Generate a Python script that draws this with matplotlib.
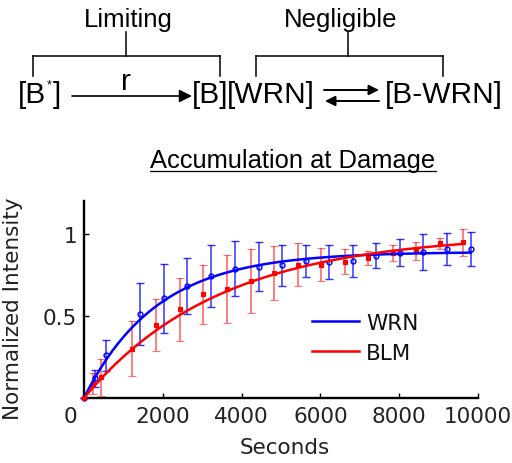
import numpy as np
import matplotlib
matplotlib.use('Agg')
import matplotlib.pyplot as plt

# ---------------- data ----------------
wrn_t = [0, 280, 560, 1420, 2030, 2620, 3230, 3820, 4430, 5030, 5630, 6230, 6820, 7420, 8020, 8610, 9220, 9820]
wrn_y = [0, 0.12, 0.26, 0.51, 0.607, 0.684, 0.745, 0.787, 0.80, 0.808, 0.835, 0.828, 0.835, 0.868, 0.886, 0.892, 0.907, 0.908]
wrn_err = [0, 0.05, 0.093, 0.19, 0.21, 0.17, 0.19, 0.167, 0.15, 0.124, 0.10, 0.105, 0.10, 0.075, 0.08, 0.11, 0.097, 0.105]

blm_t = [0, 230, 420, 1230, 1840, 2430, 3030, 3640, 4230, 4820, 5420, 6020, 6620, 7220, 7830, 8430, 9030, 9620]
blm_y = [0, 0.087, 0.127, 0.30, 0.443, 0.54, 0.632, 0.663, 0.713, 0.76, 0.813, 0.813, 0.83, 0.853, 0.885, 0.895, 0.942, 0.948]
blm_err = [0, 0.063, 0.113, 0.166, 0.158, 0.19, 0.18, 0.207, 0.197, 0.166, 0.13, 0.10, 0.077, 0.04, 0.05, 0.053, 0.035, 0.082]

# single-exponential fit parameters (amplitude, time constant in s)
wrn_fit = (0.89, 1850.0)
blm_fit = (1.0, 3450.0)

series_names = ['WRN', 'BLM']
x_ticks = [2000, 4000, 6000, 8000, 10000]
x_ticklabels = ['2000', '4000', '6000', '8000', '10000']
y_ticks = [0.5, 1.0]
y_ticklabels = ['0.5', '1']

# ---------------- figure ----------------
W, H = 512, 464
fig = plt.figure(figsize=(W / 100, H / 100), dpi=100)

# overlay in pixel coordinates (y down) for the reaction diagram
ov = fig.add_axes([0, 0, 1, 1])
ov.set_xlim(0, W)
ov.set_ylim(H, 0)
ov.axis('off')

hfont = 'Liberation Sans'
cfont = 'DejaVu Sans'

# ---- main axes ----
L, R, T, B = 84, 478, 202, 399
ax = fig.add_axes([L / W, 1 - B / H, (R - L) / W, (B - T) / H])
ax.set_xlim(0, 10000)
ax.set_ylim(0, 1.2)
for s in ['top', 'right']:
    ax.spines[s].set_visible(False)
for s in ['left', 'bottom']:
    ax.spines[s].set_linewidth(1.7)
ax.set_xticks(x_ticks)
ax.set_xticklabels(x_ticklabels)
ax.set_yticks(y_ticks)
ax.set_yticklabels(y_ticklabels)
ax.tick_params(direction='in', length=3.6, width=1.0, labelsize=15.5, pad=5)
ax.tick_params(axis='x', pad=6)
for lab in ax.get_xticklabels() + ax.get_yticklabels():
    lab.set_fontfamily(cfont)
    lab.set_color('#222222')
ax.annotate('0', xy=(0, 0), xycoords='data', xytext=(-14, -8.5), textcoords='offset pixels',
            ha='center', va='top', fontsize=15.5, family=cfont, color='#222222')

ax.set_xlabel('Seconds', fontsize=15.5, family=cfont, color='#222222')
ax.xaxis.set_label_coords(0.51, -0.2)
ax.set_ylabel('Normalized Intensity', fontsize=15.5, family=cfont, color='#222222')
ax.yaxis.set_label_coords(-0.155, 0.46)

# error bars
ax.errorbar(wrn_t, wrn_y, yerr=wrn_err, fmt='o', ms=3.5, mfc='none', mec='blue', mew=1.0,
            ecolor=(0, 0, 1, 0.8), elinewidth=1.1, capsize=3.2, capthick=1.1, clip_on=False, zorder=3)
ax.errorbar(blm_t, blm_y, yerr=blm_err, fmt='s', ms=2.8, mfc='red', mec='red', mew=0.8,
            ecolor=(1, 0, 0, 0.55), elinewidth=1.3, capsize=3.2, capthick=1.3, clip_on=False, zorder=3)

# fitted curves
tw = np.linspace(0, wrn_t[-1], 300)
tb = np.linspace(0, blm_t[-1], 300)
ax.plot(tw, wrn_fit[0] * (1 - np.exp(-tw / wrn_fit[1])), color='blue', lw=1.8, label=series_names[0], zorder=4)
ax.plot(tb, blm_fit[0] * (1 - np.exp(-tb / blm_fit[1])), color='red', lw=1.8, label=series_names[1], zorder=5)

leg = ax.legend(loc='upper left', bbox_to_anchor=(312 / W, 1 - 314 / H), bbox_transform=fig.transFigure,
                frameon=False, borderpad=0, borderaxespad=0, handlelength=2.2, handletextpad=0.3,
                labelspacing=0.45, prop={'family': cfont, 'size': 15.5})
for t in leg.get_texts():
    t.set_color('#111111')

# ---- title & diagram ----
title = ov.text(293, 168, 'Accumulation at Damage', ha='center', va='baseline', fontsize=18.4, family=hfont)
ov.text(128, 27, 'Limiting', ha='center', va='baseline', fontsize=18.5, family=hfont)
ov.text(341, 27, 'Negligible', ha='center', va='baseline', fontsize=18.5, family=hfont)

blw = 1.1
# limiting bracket
ov.plot([126, 126], [33, 57], color='black', lw=blw)
ov.plot([33, 220], [57, 57], color='black', lw=blw)
ov.plot([33, 33], [57, 77], color='black', lw=blw)
ov.plot([220, 220], [57, 77], color='black', lw=blw)
# negligible bracket
ov.plot([348, 348], [33, 57], color='black', lw=blw)
ov.plot([256, 443], [57, 57], color='black', lw=blw)
ov.plot([256, 256], [57, 77], color='black', lw=blw)
ov.plot([443, 443], [57, 77], color='black', lw=blw)

eq_fs = 21.5
base = 103
fig.canvas.draw()
r = fig.canvas.get_renderer()

def right_edge(t):
    bb = t.get_window_extent(renderer=r)
    return bb.x1

t1 = ov.text(18, base, '[B', ha='left', va='baseline', fontsize=eq_fs, family=hfont)
x1 = right_edge(t1)
t2 = ov.text(x1 + 0.5, base - 15, '*', ha='left', va='baseline', fontsize=9, family=hfont)
x2 = right_edge(t2)
ov.text(x2 + 1.5, base, ']', ha='left', va='baseline', fontsize=eq_fs, family=hfont)

ov.text(126, 90, 'r', ha='center', va='baseline', fontsize=eq_fs, family=hfont)
ov.annotate('', xy=(192, 97), xytext=(72, 97),
            arrowprops=dict(arrowstyle='-|>', lw=1.2, color='black', mutation_scale=19, shrinkA=0, shrinkB=0))

ov.text(192, base, '[B]', ha='left', va='baseline', fontsize=eq_fs, family=hfont)
ov.text(227, base, '[WRN]', ha='left', va='baseline', fontsize=eq_fs, family=hfont)
ov.text(385, base, '[B-WRN]', ha='left', va='baseline', fontsize=eq_fs, family=hfont)

ov.annotate('', xy=(379, 91), xytext=(324, 91),
            arrowprops=dict(arrowstyle='-|>', lw=1.4, color='black', mutation_scale=15, shrinkA=0, shrinkB=0))
ov.annotate('', xy=(325, 102), xytext=(379, 102),
            arrowprops=dict(arrowstyle='-|>', lw=1.4, color='black', mutation_scale=15, shrinkA=0, shrinkB=0))

# underline the title
fig.canvas.draw()
bb = title.get_window_extent(renderer=fig.canvas.get_renderer())
ov.plot([bb.x0, bb.x1], [172, 172], color='black', lw=0.9)

fig.savefig('out.png', dpi=100)
